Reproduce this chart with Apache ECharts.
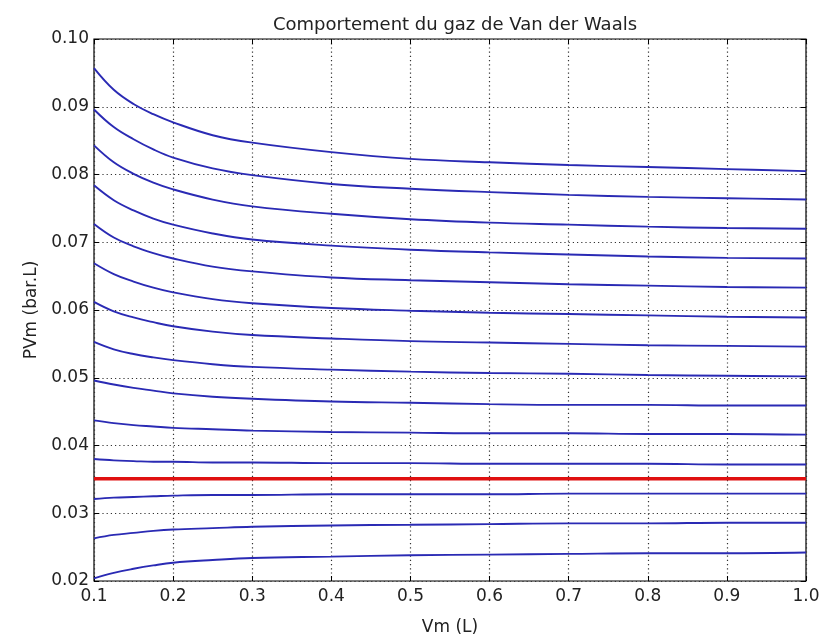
<!DOCTYPE html>
<html>
<head>
<meta charset="utf-8">
<script src="https://cdn.jsdelivr.net/npm/echarts@6/dist/echarts.min.js"></script>
<style>html,body{margin:0;padding:0;background:#fff}#c{width:823px;height:641px}</style>
</head>
<body>
<div id="c"></div>
<script>
const vm = [0.1, 0.125, 0.15, 0.175, 0.2, 0.25, 0.3, 0.4, 0.5, 0.6, 0.7, 0.8, 0.9, 1.0];
const c1  = [0.0957, 0.0925, 0.0904, 0.0889, 0.0877, 0.0858, 0.0847, 0.0833, 0.0823, 0.0818, 0.0814, 0.0811, 0.0808, 0.0805];
const c2  = [0.0896, 0.0870, 0.0852, 0.0837, 0.0825, 0.0809, 0.0799, 0.0786, 0.0779, 0.0774, 0.0770, 0.0767, 0.0765, 0.0763];
const c3  = [0.0843, 0.0818, 0.0801, 0.0788, 0.0778, 0.0763, 0.0753, 0.0742, 0.0734, 0.0729, 0.0726, 0.0723, 0.0721, 0.0720];
const c4  = [0.0784, 0.0762, 0.0747, 0.0735, 0.0726, 0.0713, 0.0704, 0.0695, 0.0689, 0.0685, 0.0682, 0.0679, 0.0677, 0.0676];
const c5  = [0.0727, 0.0707, 0.0694, 0.0684, 0.0676, 0.0664, 0.0657, 0.0648, 0.0644, 0.0641, 0.0638, 0.0636, 0.0634, 0.0633];
const c6  = [0.0669, 0.0653, 0.0642, 0.0633, 0.0626, 0.0616, 0.0610, 0.0603, 0.0599, 0.0596, 0.0594, 0.0592, 0.0590, 0.0589];
const c7  = [0.0612, 0.0598, 0.0589, 0.0582, 0.0576, 0.0568, 0.0563, 0.0558, 0.0554, 0.0552, 0.0550, 0.0548, 0.0547, 0.0546];
const c8  = [0.0553, 0.0542, 0.0535, 0.0530, 0.0526, 0.0520, 0.0516, 0.0512, 0.0509, 0.0507, 0.0506, 0.0504, 0.0503, 0.0502];
const c9  = [0.0496, 0.0490, 0.0485, 0.0481, 0.0477, 0.0472, 0.0469, 0.0465, 0.0463, 0.0461, 0.0460, 0.0460, 0.0459, 0.0459];
const c10 = [0.0437, 0.0433, 0.0430, 0.0428, 0.0426, 0.0424, 0.0422, 0.0420, 0.0419, 0.0418, 0.0418, 0.0417, 0.0417, 0.0416];
const c11 = [0.0380, 0.0378, 0.0377, 0.0376, 0.0376, 0.0375, 0.0375, 0.0374, 0.0374, 0.0373, 0.0373, 0.0373, 0.0372, 0.0372];
const boyle = [0.0351, 0.0351, 0.0351, 0.0351, 0.0351, 0.0351, 0.0351, 0.0351, 0.0351, 0.0351, 0.0351, 0.0351, 0.0351, 0.0351];
const c12 = [0.0321, 0.0323, 0.0324, 0.0325, 0.0326, 0.0327, 0.0327, 0.0328, 0.0328, 0.0328, 0.0329, 0.0329, 0.0329, 0.0329];
const c13 = [0.0263, 0.0268, 0.0271, 0.0274, 0.0276, 0.0278, 0.0280, 0.0282, 0.0283, 0.0284, 0.0285, 0.0285, 0.0286, 0.0286];
const c14 = [0.0204, 0.0212, 0.0218, 0.0223, 0.0227, 0.0231, 0.0234, 0.0236, 0.0238, 0.0239, 0.0240, 0.0241, 0.0241, 0.0242];
const blueCurves = [c1, c2, c3, c4, c5, c6, c7, c8, c9, c10, c11, c12, c13, c14];

const titleText = 'Comportement du gaz de Van der Waals';
const xName = 'Vm (L)';
const yName = 'PVm (bar.L)';

const FONT = 'DejaVu Sans';
const pair = arr => vm.map((x, i) => [x, arr[i]]);

const series = blueCurves.map(arr => ({
  type: 'line', data: pair(arr), showSymbol: false, smooth: 0.4,
  lineStyle: { color: '#2a2ab4', width: 1.9 }, z: 3, silent: true
}));
series.push({
  type: 'line', data: pair(boyle), showSymbol: false,
  lineStyle: { color: '#e01010', width: 3.5 }, z: 4, silent: true
});

const tickStyle = { show: true, inside: true, length: 5, lineStyle: { color: '#000', width: 1 } };
const gridLine = { show: true, lineStyle: { color: '#333', type: [1.2, 3], width: 1.2 } };

const chart = echarts.init(document.getElementById('c'), null, { renderer: 'canvas' });
chart.setOption({
  backgroundColor: '#fff',
  animation: false,
  title: {
    text: titleText, left: 450, top: 11, textAlign: 'center',
    textStyle: { fontFamily: FONT, fontSize: 18, fontWeight: 'normal', color: '#222' }
  },
  grid: { left: 94, right: 17, top: 39, bottom: 54, show: true, borderColor: '#000', borderWidth: 1.2, backgroundColor: '#fff' },
  xAxis: [{
    type: 'value', min: 0.1, max: 1.0, interval: 0.1,
    name: xName, nameLocation: 'middle', nameGap: 38,
    nameTextStyle: { fontFamily: FONT, fontSize: 17, color: '#222' },
    axisLine: { show: false }, axisTick: tickStyle, splitLine: gridLine,
    axisLabel: { fontFamily: FONT, fontSize: 17, color: '#222', margin: 7, formatter: v => v.toFixed(1) }
  }, {
    type: 'value', position: 'top', min: 0.1, max: 1.0, interval: 0.1,
    axisLine: { show: false }, axisTick: tickStyle, splitLine: { show: false }, axisLabel: { show: false }
  }],
  yAxis: [{
    type: 'value', min: 0.02, max: 0.10, interval: 0.01,
    name: yName, nameLocation: 'middle', nameGap: 54, nameRotate: 90,
    nameTextStyle: { fontFamily: FONT, fontSize: 17, color: '#222' },
    axisLine: { show: false }, axisTick: tickStyle, splitLine: gridLine,
    axisLabel: { fontFamily: FONT, fontSize: 17, color: '#222', margin: 5, formatter: v => v.toFixed(2) }
  }, {
    type: 'value', position: 'right', min: 0.02, max: 0.10, interval: 0.01,
    axisLine: { show: false }, axisTick: tickStyle, splitLine: { show: false }, axisLabel: { show: false }
  }],
  series: series
});
</script>
</body>
</html>
